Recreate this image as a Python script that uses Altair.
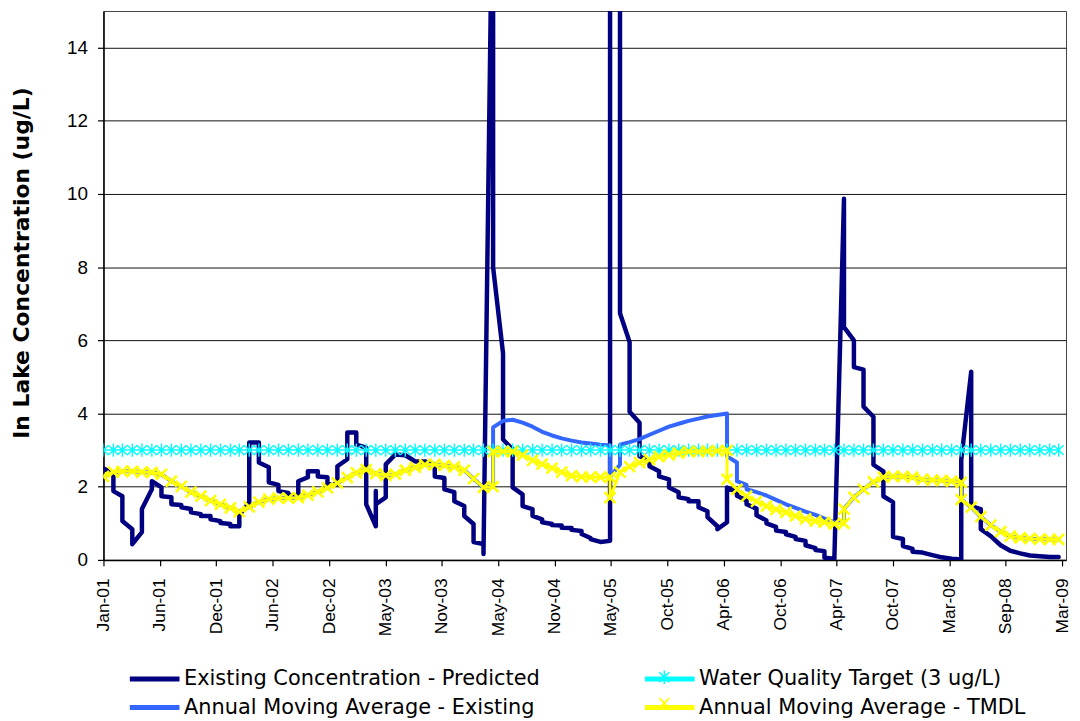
import altair as alt
import pandas as pd

# ---------------- data ----------------
SERIES = [
    "Existing Concentration - Predicted",
    "Annual Moving Average - Existing",
    "Water Quality Target (3 ug/L)",
    "Annual Moving Average - TMDL",
]
COLORS = ["#000080", "#3366FF", "#00FFFF", "#FFFF00"]

TICK_LABELS = ["Jan-01", "Jun-01", "Dec-01", "Jun-02", "Dec-02", "May-03", "Nov-03",
               "May-04", "Nov-04", "May-05", "Oct-05", "Apr-06", "Oct-06", "Apr-07",
               "Oct-07", "Mar-08", "Sep-08", "Mar-09"]
TICK_STEP_DAYS = 176
START = "2001-01-01"

# values per month (index 0 = Jan-01); several values in one month draw a vertical step
EXISTING = [
    [2.50], [2.36, 1.88], [1.74, 1.06], [0.84, 0.43], [0.76, 1.39],
    [1.93, 2.15], [1.98, 1.74], [1.71, 1.52], [1.50, 1.44], [1.39, 1.30],
    [1.25, 1.20], [1.20, 1.11], [1.06, 1.01], [0.98, 0.92], [0.92, 1.22],
    [1.58, 3.21], [3.21, 2.66], [2.53, 2.12], [2.05, 1.88], [1.83, 1.77],
    [1.74, 2.15], [2.26, 2.42], [2.42, 2.28], [2.26, 2.07], [2.07, 2.56],
    [2.75, 3.48], [3.48, 3.15], [3.07, 1.52], [0.92, 1.88, 1.52], [1.71, 2.61],
    [2.88], [2.86], [2.69], [2.69], [2.61, 2.28],
    [2.24, 1.93], [1.85, 1.60], [1.47, 1.20], [0.98, 0.49], [0.43, 0.16],
    [20.0, 8.00], [5.65, 3.29], [3.02, 1.98], [1.79, 1.47], [1.39, 1.20],
    [1.11, 1.03], [0.98, 0.95], [0.94, 0.88], [0.87, 0.82], [0.79, 0.71],
    [0.60, 0.57], [0.49], [0.52, 25.0], [25.0, 6.74], [5.95, 4.05],
    [3.75, 2.83], [2.70, 2.56], [2.42, 2.28], [2.20, 1.98], [1.85, 1.71],
    [1.66, 1.60], [1.60, 1.44], [1.33, 1.17], [0.92, 0.84], [1.03, 1.98],
    [1.85, 1.75], [1.62, 1.52], [1.40, 1.22], [1.08, 1.00], [0.90, 0.80],
    [0.76, 0.70], [0.63, 0.57], [0.52, 0.40], [0.32, 0.27], [0.24, 0.06],
    [0.03], [9.87, 6.36], [6.00, 5.27], [5.20, 4.19], [3.91, 2.60],
    [2.42, 1.74], [1.58, 0.63], [0.57, 0.38], [0.30, 0.22], [0.20],
    [0.13], [0.07], [0.03], [0.01, 2.74], [5.14, 1.47],
    [1.39, 0.84], [0.65], [0.40], [0.25], [0.18],
    [0.12], [0.10], [0.08], [0.08],
]

AMA_EXISTING = [
    [2.28], [2.40], [2.42], [2.42], [2.40], [2.39], [2.34], [2.15], [2.01], [1.85],
    [1.74], [1.62], [1.52], [1.42], [1.32], [1.45], [1.58], [1.66], [1.69], [1.69],
    [1.70], [1.77], [1.86], [1.97], [2.10], [2.25], [2.38], [2.47], [2.36], [2.31],
    [2.34], [2.45], [2.53], [2.60], [2.61], [2.58], [2.54], [2.45], [2.22], [1.98],
    [2.00, 3.62], [3.80], [3.83], [3.75], [3.64], [3.50], [3.40], [3.32], [3.26], [3.21],
    [3.18], [3.15], [3.13, 2.28], [2.60, 3.15], [3.22], [3.30], [3.42], [3.53], [3.64], [3.72],
    [3.80], [3.86], [3.92], [3.96], [4.00, 2.83], [2.66, 2.15], [2.05, 1.93], [1.85], [1.76], [1.64],
    [1.52], [1.42], [1.32], [1.23], [1.13], [1.03], [1.00, 1.39], [1.71], [1.93], [2.13],
    [2.26], [2.28], [2.28], [2.26], [2.20], [2.18], [2.17], [2.15], [2.12, 1.65], [1.44],
    [1.18], [0.95], [0.77], [0.65], [0.60], [0.58], [0.57], [0.56], [0.56],
]

AMA_TMDL = [
    [2.28], [2.40], [2.42], [2.42], [2.40], [2.39], [2.34], [2.15], [2.01], [1.85],
    [1.74], [1.62], [1.52], [1.42], [1.32], [1.45], [1.58], [1.66], [1.69], [1.69],
    [1.70], [1.77], [1.86], [1.97], [2.10], [2.25], [2.38], [2.47], [2.36], [2.31],
    [2.34], [2.45], [2.53], [2.60], [2.61], [2.58], [2.54], [2.45], [2.22], [1.98],
    [2.00, 2.96], [2.96], [2.96], [2.86], [2.72], [2.62], [2.51], [2.40], [2.30], [2.27],
    [2.26], [2.26], [2.26, 1.70], [2.40], [2.55], [2.66], [2.74], [2.82], [2.87], [2.92],
    [2.96], [2.96], [2.97], [2.98], [2.99, 2.20], [1.93], [1.74], [1.60], [1.47], [1.38],
    [1.30], [1.20], [1.12], [1.06], [1.03], [0.98], [1.00, 1.39], [1.71], [1.93], [2.13],
    [2.26], [2.28], [2.28], [2.26], [2.20], [2.18], [2.17], [2.15], [2.12, 1.65], [1.44],
    [1.18], [0.95], [0.77], [0.65], [0.60], [0.58], [0.57], [0.56], [0.56],
]

TARGET = [[3.0] for _ in range(99)]  # constant 3 ug/L target, one point per month


# ---------------- table ----------------
def build(name, by_month):
    start = pd.Timestamp(START)
    rows = []
    for m, vals in enumerate(by_month):
        day = (start + pd.DateOffset(months=m) - start).days
        for v in vals:
            rows.append({"series": name, "mk": " ", "day": day, "value": v, "order": len(rows)})
    return pd.DataFrame(rows)


df_exist = build(SERIES[0], EXISTING)
df_ama_e = build(SERIES[1], AMA_EXISTING)
df_target = build(SERIES[2], TARGET)
df_ama_t = build(SERIES[3], AMA_TMDL)

TICK_DAYS = [TICK_STEP_DAYS * k for k in range(len(TICK_LABELS))]
X_END = 3004

label_list = "[" + ",".join("'" + t + "'" for t in TICK_LABELS) + "]"

x_axis = alt.Axis(
    values=TICK_DAYS,
    labelExpr=f"{label_list}[round(datum.value / {TICK_STEP_DAYS})]",
    labelAngle=270, labelAlign="right", labelBaseline="middle",
    labelFont="Liberation Sans", labelFontSize=17.5, labelColor="#000",
    labelPadding=12, labelOverlap=False, labelFlush=False,
    tickSize=6, tickColor="#000", tickWidth=1.2,
    domainColor="#000", domainWidth=1.5, grid=False, title=None,
)
y_axis = alt.Axis(
    values=[0, 2, 4, 6, 8, 10, 12, 14],
    grid=True, gridColor="#111", gridWidth=1,
    domainColor="#000", domainWidth=1.5,
    tickSize=6, tickColor="#000", tickWidth=1.2,
    labelFont="Liberation Sans", labelFontSize=19, labelColor="#000", labelPadding=10,
    title="In Lake Concentration (ug/L)", titleFont="DejaVu Sans", titleFontSize=22,
    titleFontWeight="bold", titleColor="#000",
    titleX=-70, titleY=253, titleAngle=270, titleAlign="center", titleBaseline="bottom",
)

color_scale = alt.Scale(domain=SERIES, range=COLORS)

legend = alt.Legend(
    title=None, orient="none", legendX=41, legendY=661, columns=2,
    columnPadding=95, rowPadding=7, padding=0,
    symbolType="M-4,0L4,0", symbolSize=156, symbolStrokeWidth=5,
    labelFont="DejaVu Sans", labelFontSize=21, labelColor="#000", labelOffset=19,
    labelLimit=700,
)

STAR = "M-1,-1L1,1M-1,1L1,-1M0,-1.35L0,1.35"
CROSS = "M-1,-1L1,1M-1,1L1,-1"


def marker_legend(color, x, y):
    return alt.Legend(
        title=None, orient="none", legendX=x, legendY=y, padding=0,
        symbolSize=100, symbolStrokeWidth=1.6, symbolStrokeColor=color,
        symbolFillColor="transparent", labelExpr="''", labelFontSize=1,
    )


def enc(with_legend=False):
    return dict(
        x=alt.X("day:Q", scale=alt.Scale(domain=[0, X_END], nice=False, zero=False), axis=x_axis),
        y=alt.Y("value:Q", scale=alt.Scale(domain=[0, 15], nice=False), axis=y_axis),
        color=alt.Color("series:N", scale=color_scale, legend=legend if with_legend else None),
    )


def line(df, width, with_legend=False):
    return alt.Chart(df).mark_line(
        strokeWidth=width, clip=True, strokeJoin="round", strokeCap="round"
    ).encode(order=alt.Order("order:Q"), **enc(with_legend))


def points(df, path, size, width, color, lx, ly):
    return alt.Chart(df).mark_point(
        size=size, strokeWidth=width, filled=False, opacity=1, clip=True
    ).encode(
        shape=alt.Shape("mk:N", scale=alt.Scale(range=[path]), legend=marker_legend(color, lx, ly)),
        **enc(),
    )


chart = alt.layer(
    line(df_exist, 4.5, with_legend=True),
    line(df_ama_e, 4),
    line(df_target, 1.5),
    points(df_target, STAR, 100, 1.4, COLORS[2], 558, 664),
    line(df_ama_t, 3),
    points(df_ama_t, CROSS, 121, 2.6, COLORS[3], 558, 690),
).resolve_scale(shape="independent").resolve_legend(shape="independent").properties(
    width=968, height=552,
    padding={"left": 96, "top": 1, "right": 6, "bottom": 160},
    autosize=alt.AutoSizeParams(type="none"),
    background="white",
).configure_view(stroke="#444", strokeWidth=1)

chart.save("out.html", embed_options={"renderer": "svg", "actions": False})
